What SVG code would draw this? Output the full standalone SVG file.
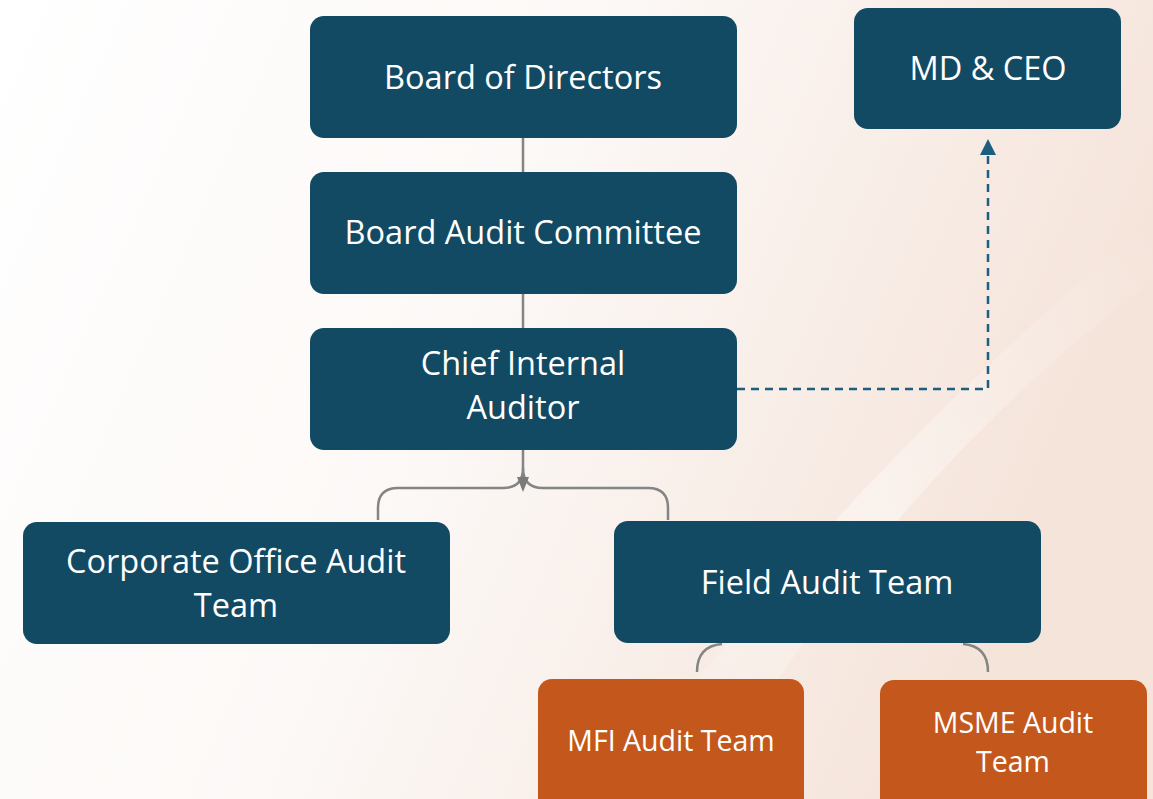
<svg xmlns="http://www.w3.org/2000/svg" width="1153" height="799" viewBox="0 0 1153 799">
<defs>
<linearGradient id="bg" x1="0" y1="0" x2="1" y2="0.3">
<stop offset="0" stop-color="#ffffff"/>
<stop offset="0.5" stop-color="#fcf8f6"/>
<stop offset="1" stop-color="#f5e4da"/>
</linearGradient>
<linearGradient id="streak" x1="0" y1="1" x2="1" y2="0">
<stop offset="0" stop-color="#ffffff" stop-opacity="0"/>
<stop offset="0.5" stop-color="#ffffff" stop-opacity="0.8"/>
<stop offset="1" stop-color="#ffffff" stop-opacity="0"/>
</linearGradient>
<style>
.box{fill:#124a63}
.obox{fill:#c4581c}
.t{font-family:"Open Sans","Noto Sans",sans-serif;fill:#ffffff;text-anchor:middle}
.big{font-size:32.5px}
.small{font-size:28.5px}
.conn{fill:none;stroke:#858585;stroke-width:2.5}
.dash{fill:none;stroke:#1d5e80;stroke-width:2.5;stroke-dasharray:8,6}
</style>
</defs>
<rect width="1153" height="799" fill="url(#bg)"/>
<path d="M600,799 C760,600 900,430 1153,220 L1153,280 C930,450 820,610 700,799 Z" fill="url(#streak)" opacity="0.5"/>

<g id="connectors">
<line class="conn" x1="523" y1="138" x2="523" y2="172"/>
<line class="conn" x1="523" y1="294" x2="523" y2="328"/>
<path class="conn" d="M523,450 L523,468 Q523,488 503,488 L398,488 Q378,488 378,508 L378,520"/>
<path class="conn" d="M523,468 Q523,488 543,488 L648,488 Q668,488 668,508 L668,520"/>
<path d="M517,477 L529,477 L523,492 Z" fill="#7a7a7a"/>
<path class="conn" d="M722,644 Q697,646 697,672"/>
<path class="conn" d="M963,644 Q988,646 988,672"/>
<path class="dash" d="M737,389 L988,389 L988,150"/>
<path d="M980,155 L988,139 L996,155 Z" fill="#1d5e80"/>
</g>

<g id="board-of-directors">
<rect class="box" x="310" y="16" width="427" height="122" rx="14"/>
<text class="t big" x="523" y="89">Board of Directors</text>
</g>
<g id="md-ceo">
<rect class="box" x="854" y="8" width="267" height="121" rx="14"/>
<text class="t big" x="988" y="80">MD &amp; CEO</text>
</g>
<g id="board-audit-committee">
<rect class="box" x="310" y="172" width="427" height="122" rx="14"/>
<text class="t big" x="523" y="244">Board Audit Committee</text>
</g>
<g id="chief-internal-auditor">
<rect class="box" x="310" y="328" width="427" height="122" rx="14"/>
<text class="t big" x="523" y="375">Chief Internal</text>
<text class="t big" x="523" y="419">Auditor</text>
</g>
<g id="corporate-office-audit-team">
<rect class="box" x="23" y="522" width="427" height="122" rx="14"/>
<text class="t big" x="236" y="573">Corporate Office Audit</text>
<text class="t big" x="236" y="617">Team</text>
</g>
<g id="field-audit-team">
<rect class="box" x="614" y="521" width="427" height="122" rx="14"/>
<text class="t big" x="827" y="594">Field Audit Team</text>
</g>
<g id="mfi-audit-team">
<rect class="obox" x="538" y="679" width="266" height="135" rx="14"/>
<text class="t small" x="671" y="751">MFI Audit Team</text>
</g>
<g id="msme-audit-team">
<rect class="obox" x="880" y="680" width="267" height="135" rx="14"/>
<text class="t small" x="1013" y="733">MSME Audit</text>
<text class="t small" x="1013" y="772">Team</text>
</g>
</svg>
